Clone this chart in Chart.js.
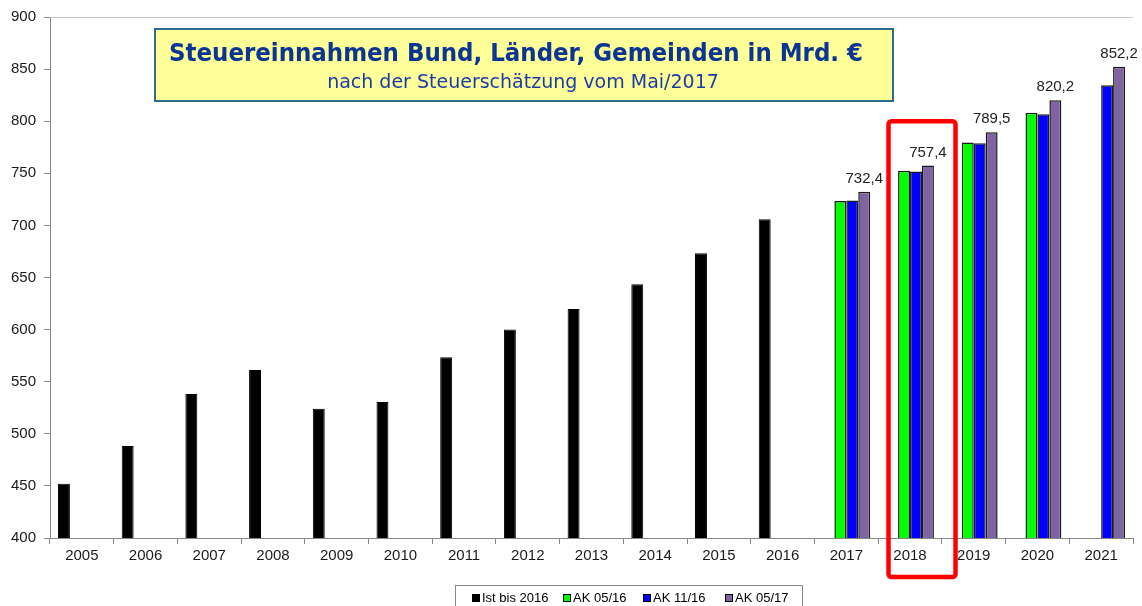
<!DOCTYPE html>
<html>
<head>
<meta charset="utf-8">
<script src="https://cdn.jsdelivr.net/npm/chart.js@4"></script>
<style>
  html, body { margin: 0; padding: 0; background: #fff; }
  #wrap { width: 1142px; height: 606px; position: relative; }
</style>
</head>
<body>
<div id="wrap"><canvas id="myChart" width="1142" height="606"></canvas></div>
<script>
// categories and series
const years = ['2005','2006','2007','2008','2009','2010','2011','2012','2013','2014','2015','2016','2017','2018','2019','2020','2021'];
const istBis2016 = [452.1, 488.4, 538.2, 561.2, 524.0, 530.6, 573.4, 600.0, 619.7, 643.6, 673.3, 705.8, null, null, null, null, null];
const ak0516 = [null, null, null, null, null, null, null, null, null, null, null, null, 723.5, 752.4, 779.5, 808.1, null];
const ak1116 = [null, null, null, null, null, null, null, null, null, null, null, null, 723.9, 751.7, 778.9, 806.6, 834.6];
const ak0517 = [null, null, null, null, null, null, null, null, null, null, null, null, 732.4, 757.4, 789.5, 820.2, 852.2];
const yTicks = [400, 450, 500, 550, 600, 650, 700, 750, 800, 850, 900];

const titleText = 'Steuereinnahmen Bund, Länder, Gemeinden in Mrd. €';
const subText = 'nach der Steuerschätzung vom Mai/2017';
const highlightYear = '2018';

const tickFont = {family: '"Liberation Sans", Arial, sans-serif', size: 15};

// value labels, frame, title box and legend
let extras = {
  id: 'extras',
  afterDatasetsDraw(chart) {
    let ctx = chart.ctx;
    let meta = chart.getDatasetMeta(3);
    ctx.save();
    ctx.font = '15px "Liberation Sans", Arial, sans-serif';
    ctx.fillStyle = '#222';
    ctx.textAlign = 'center';
    ctx.textBaseline = 'alphabetic';
    meta.data.forEach((bar, i) => {
      let v = ak0517[i];
      if (v == null) return;
      ctx.fillText(v.toFixed(1).replace('.', ','), bar.x, bar.y - 9);
    });
    ctx.restore();
  },
  afterDraw(chart) {
    let ctx = chart.ctx;
    let area = chart.chartArea;
    let xs = chart.scales.x, ys = chart.scales.y;
    ctx.save();

    // top border line
    ctx.strokeStyle = '#c8c8c8';
    ctx.lineWidth = 1;
    ctx.beginPath();
    ctx.moveTo(area.left, Math.round(area.top) + 0.5);
    ctx.lineTo(area.right, Math.round(area.top) + 0.5);
    ctx.stroke();

    // red frame around 2018
    let cx = xs.getPixelForValue(years.indexOf(highlightYear));
    let l = cx - 21.5, r = cx + 45.5, t = ys.getPixelForValue(800), b = area.bottom + 39;
    ctx.strokeStyle = '#ff0000';
    ctx.lineWidth = 4.5;
    ctx.beginPath();
    ctx.roundRect(l, t, r - l, b - t, 3);
    ctx.stroke();

    // title box
    ctx.fillStyle = '#ffff99';
    ctx.fillRect(155, 29, 738, 72);
    ctx.strokeStyle = '#2e6b8c';
    ctx.lineWidth = 2;
    ctx.strokeRect(155, 29, 738, 72);
    ctx.textAlign = 'center';
    ctx.textBaseline = 'alphabetic';
    ctx.fillStyle = '#0a3592';
    ctx.font = 'bold 25px "DejaVu Sans", Verdana, sans-serif';
    ctx.fillText(titleText, 516, 61, 694);
    ctx.fillStyle = '#1a3ca6';
    ctx.font = '19px "DejaVu Sans", Tahoma, sans-serif';
    ctx.fillText(subText, 523, 88, 398);

    // legend
    ctx.fillStyle = '#fff';
    ctx.fillRect(455.5, 585.5, 347, 30);
    ctx.strokeStyle = '#888';
    ctx.lineWidth = 1;
    ctx.strokeRect(455.5, 585.5, 347, 30);
    let starts = [472, 563, 643, 725];
    ctx.font = '13px "Liberation Sans", Arial, sans-serif';
    ctx.textAlign = 'left';
    chart.data.datasets.forEach((ds, i) => {
      let x0 = starts[i];
      ctx.fillStyle = ds.backgroundColor;
      ctx.fillRect(x0, 594, 8, 8);
      ctx.strokeStyle = '#000';
      ctx.strokeRect(x0 + 0.5, 594.5, 7, 7);
      ctx.fillStyle = '#000';
      ctx.fillText(ds.label, x0 + 10, 602);
    });
    ctx.restore();
  }
};

let ctx = document.getElementById('myChart').getContext('2d');

let chart = new Chart(ctx, {
  type: 'bar',
  data: {
    labels: years,
    datasets: [
      {label: 'Ist bis 2016', data: istBis2016, backgroundColor: '#000000', borderColor: '#000000', borderWidth: 1},
      {label: 'AK 05/16', data: ak0516, backgroundColor: '#00ff00', borderColor: '#1a1a1a', borderWidth: 1.5},
      {label: 'AK 11/16', data: ak1116, backgroundColor: '#0000ff', borderColor: '#1a1a1a', borderWidth: 1.5},
      {label: 'AK 05/17', data: ak0517, backgroundColor: '#8064a2', borderColor: '#1a1a1a', borderWidth: 1.5}
    ]
  },
  options: {
    responsive: false,
    animation: false,
    categoryPercentage: 0.75,
    barPercentage: 1.0,
    layout: {padding: {top: 16, right: 9, left: 0, bottom: 0}},
    plugins: {legend: {display: false}, tooltip: {enabled: false}},
    scales: {
      x: {
        grid: {drawOnChartArea: false, tickLength: 6, color: '#888', offset: true},
        border: {color: '#888'},
        ticks: {font: tickFont, color: '#1a1a1a', padding: 3, maxRotation: 0},
        afterFit: (s) => { s.height = 68; }
      },
      y: {
        min: 400, max: 900,
        grid: {drawOnChartArea: false, tickLength: 6, color: '#888'},
        border: {color: '#888'},
        afterBuildTicks: (s) => { s.ticks = yTicks.map(v => ({value: v})); },
        ticks: {font: tickFont, color: '#1a1a1a', padding: 8},
        afterFit: (s) => { s.width = 50; }
      }
    }
  },
  plugins: [extras]
});
</script>
</body>
</html>
